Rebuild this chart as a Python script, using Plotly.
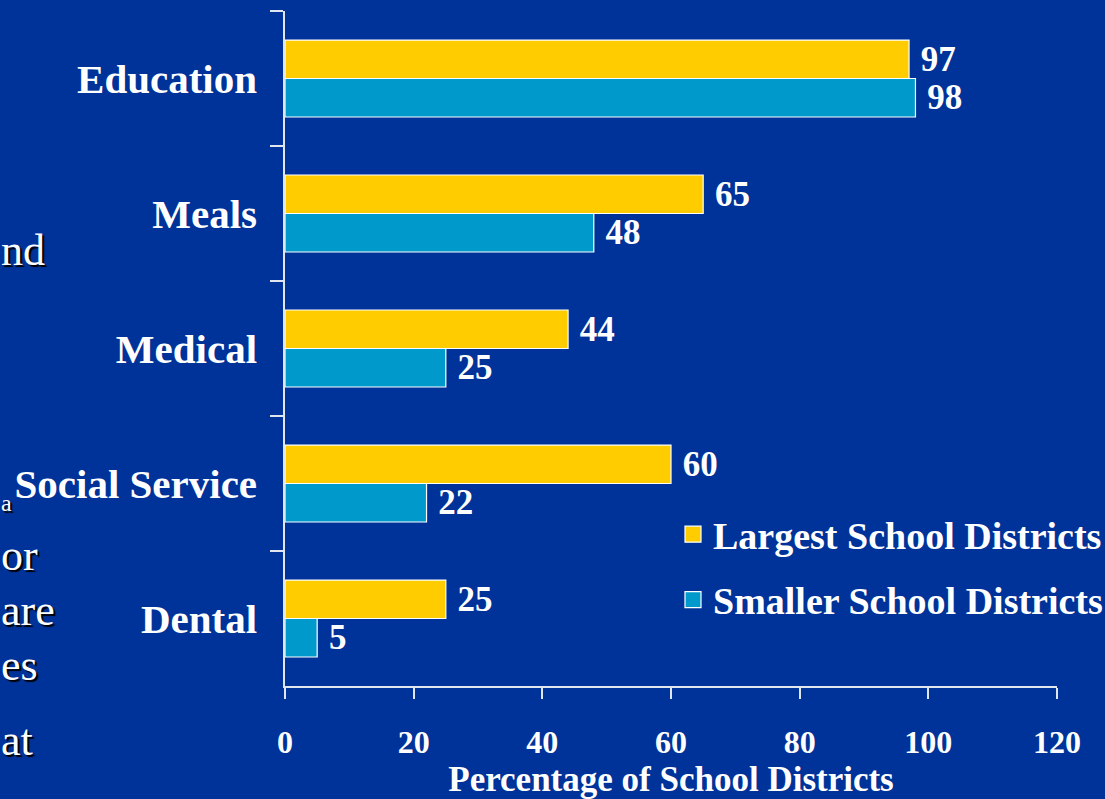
import plotly.graph_objects as go

categories = ["Education", "Meals", "Medical", "Social Service", "Dental"]
largest = [97, 65, 44, 60, 25]
smaller = [98, 48, 25, 22, 5]
series_names = ["Largest School Districts", "Smaller School Districts"]
colors = ["#FFCC00", "#0099CC"]
x_ticks = [0, 20, 40, 60, 80, 100, 120]
side_fragments = ["nd", "a", "or", "are", "es", "at"]

W, H = 1105, 799
L, R, T, B = 285, 48, 11, 113
pw, ph = W - L - R, H - T - B

def px_x(p):
    return (p - L) / pw

def px_y(p):
    return (H - B - p) / ph

SERIF = "Liberation Serif, Times New Roman, serif"

fig = go.Figure()
for name, vals, col in zip(series_names, [largest, smaller], colors):
    fig.add_trace(go.Bar(
        y=categories, x=vals, orientation="h", name=name,
        marker=dict(color=col, line=dict(color="white", width=1.2)),
        texttemplate=" %{x}", textposition="outside",
        textfont=dict(family=SERIF, size=35, color="white", weight="bold"),
        constraintext="none", cliponaxis=False, showlegend=False,
    ))
for name, col in zip(series_names, colors):
    fig.add_trace(go.Scatter(
        x=[None], y=[None], mode="markers", name=name, legendgroup=name,
        marker=dict(symbol="square", size=20, color=col, line=dict(color="white", width=1.2)),
    ))

# left-side slide text fragments (partly hidden slide body text)
frag_pos = [(0, 250, 44), (0, 503, 24), (0, 555, 44), (0, 610, 44), (0, 665, 44), (0, 740, 44)]
for txt, (xp, yp, fs) in zip(side_fragments, frag_pos):
    fig.add_annotation(
        x=px_x(xp), y=px_y(yp), xref="paper", yref="paper", text=txt,
        showarrow=False, xanchor="left", yanchor="middle", borderpad=0,
        font=dict(family=SERIF, size=fs, color="white", shadow="2px 2px 1px #000000"),
    )

fig.update_layout(
    width=W, height=H,
    margin=dict(l=L, r=R, t=T, b=B, autoexpand=False),
    paper_bgcolor="#003399", plot_bgcolor="rgba(0,0,0,0)",
    barmode="group", bargap=0.43, bargroupgap=0,
    showlegend=True,
    legend=dict(
        x=px_x(673), y=px_y(503), xanchor="left", yanchor="top",
        font=dict(family=SERIF, size=38, color="white", weight="bold"),
        bgcolor="rgba(0,0,0,0)", traceorder="grouped", tracegroupgap=13,
        itemwidth=30,
    ),
    font=dict(family=SERIF, color="white"),
)
fig.update_xaxes(
    range=[0, 120], tickvals=x_ticks, showgrid=False, zeroline=False,
    showline=True, linecolor="#E0E6F0", linewidth=1.5,
    ticks="outside", ticklen=11, tickcolor="#E0E6F0", tickwidth=1.5,
    tickfont=dict(family=SERIF, size=32, color="white", weight="bold"),
    ticklabelstandoff=16,
    title=dict(text="Percentage of School Districts", standoff=2,
               font=dict(family=SERIF, size=35, color="white", weight="bold")),
)
fig.update_yaxes(
    categoryorder="array", categoryarray=categories, autorange="reversed",
    showgrid=False, zeroline=False,
    showline=True, linecolor="#E0E6F0", linewidth=1.5,
    ticks="outside", tickson="boundaries", ticklen=13, tickcolor="#E0E6F0", tickwidth=1.5,
    tickfont=dict(family=SERIF, size=41, color="white", weight="bold"),
    ticklabelstandoff=18,
)

fig.write_html(
    "out.html",
    config={"displayModeBar": False},
    post_script="document.body.style.margin='0';document.body.style.background='#003399';",
)
